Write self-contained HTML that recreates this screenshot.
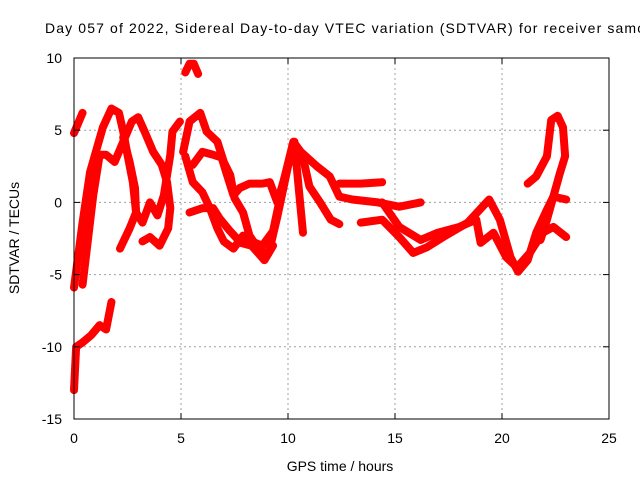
<!DOCTYPE html>
<html><head><meta charset="utf-8"><style>
body{margin:0;background:#fff}
svg{display:block;font-family:"Liberation Sans",sans-serif}
</style></head><body>
<svg id="chart" width="640" height="480" viewBox="0 0 640 480">
<text x="45" y="33" font-size="14" textLength="600" lengthAdjust="spacing">Day 057 of 2022, Sidereal Day-to-day VTEC variation (SDTVAR) for receiver samo</text>
<text transform="translate(19,238) rotate(-90)" font-size="14" text-anchor="middle">SDTVAR / TECUs</text>
<text x="340" y="471" font-size="14" text-anchor="middle">GPS time / hours</text>
<g id="grid"></g><g id="series"></g><g id="axes"></g>
</svg>
<script>
const xTicks=[0,5,10,15,20,25];
const yTicks=[-15,-10,-5,0,5,10];
const trackA=[[0,-13],[0.1,-10],[0.4,-9.7],[0.8,-9.2],[1.2,-8.5],[1.5,-8.8],[1.75,-6.9]];
const trackB=[[0,4.8],[0.2,5.5],[0.4,6.2]];
const trackC=[[0,-5.9],[0.4,-1.4],[0.75,2.1],[1.35,5.2],[1.75,6.5],[2.1,6.2],[2.3,4.9],[2.5,3.3],[2.75,1.4],[2.9,-0.7],[3.2,-1.4],[3.55,0],[3.9,-0.9],[4.2,0.5],[4.5,3.3],[4.6,4.9],[4.95,5.6]];
const trackD=[[0.4,-5.7],[0.9,0.5],[1.2,3.3],[1.5,3.3],[1.9,2.8],[2.3,4.2],[2.7,5.6],[3.0,5.9],[3.3,4.9],[3.7,3.5],[4.1,2.6],[4.35,1.4],[4.5,-0.4],[4.4,-1.8],[4.0,-3],[3.55,-2.4],[3.2,-2.7]];
const trackE=[[2.15,-3.2],[2.6,-1.8],[2.9,-0.7],[2.85,1],[2.6,2.8],[2.3,4.5]];
const trackF=[[5.2,9],[5.4,9.6],[5.6,9.6],[5.8,8.9]];
const trackG=[[5.1,3.5],[5.4,5.6],[5.9,6.2],[6.2,4.9],[6.7,4.2],[7,2.8],[7.3,1.9],[7.5,0.3],[7.9,-0.7],[8.2,-2.3],[8.7,-3.4],[9.1,-3.5],[9.5,-1],[10,2.5],[10.3,4],[10.7,3.1],[11,1.1],[11.5,0],[12,-1.2],[12.4,-1.5]];
const trackH=[[5.55,2.6],[6,3.5],[6.5,3.3],[6.9,3.1],[7.15,1.9],[7.45,0.5],[7.75,1],[8.2,1.3],[8.8,1.3],[9.15,1.4],[9.5,0],[9.9,2],[10.3,4.2],[10.5,1],[10.7,-2.1]];
const trackI=[[5.2,3.2],[5.55,1.4],[6,0.7],[6.35,-0.4],[6.7,-1.8],[7,-2.7],[7.45,-3.2],[7.9,-2.3],[8.3,-2.7],[8.8,-3],[9.3,-2],[9.8,1.5],[10.25,4.2],[10.6,3.5],[11.35,2.5],[11.95,1.8],[12.4,0.4],[13,0.2],[14.2,0],[15.2,-0.3],[16.2,0]];
const trackJ=[[5.4,-0.7],[6,-0.4],[6.5,-0.4],[6.8,-1.1],[7.3,-2],[7.8,-2.8],[8.3,-3],[8.9,-4],[9.3,-3]];
const trackL=[[12.4,1.3],[13.4,1.3],[14.4,1.4]];
const trackM=[[13.4,-1.4],[14.4,-1.2],[15.2,-2.4],[15.85,-3.5],[16.5,-3.1],[17.25,-2.4],[18.4,-1.4],[19.4,0.2],[19.9,-1.2],[20.4,-3.8],[20.75,-4.8],[21.2,-4],[21.6,-2.1],[22.1,-0.5],[22.4,0.4],[23,0.2]];
const trackN=[[14.4,0],[15.2,-1.7],[16.2,-2.6],[17,-2.1],[18,-1.7],[18.8,-1.2],[19,-2.8],[19.6,-2.1],[20.2,-3.8],[20.7,-4.5],[21.3,-3.5],[21.9,-2.1],[22.4,-1.7],[23,-2.4]];
const trackO=[[21.2,1.3],[21.6,1.8],[22.1,3.2],[22.3,5.7],[22.6,6.0],[22.85,5.2],[22.95,3.2],[22.7,2.0],[22.4,0.4],[22.1,-1.2],[21.8,-2.6]];
const tracks=[trackA,trackB,trackC,trackD,trackE,trackF,trackG,trackH,trackI,trackJ,trackL,trackM,trackN,trackO];

const X0=74,X1=609,Y0=419,Y1=58;
const sx=h=>X0+(h-0)/25*(X1-X0);
const sy=v=>Y0-(v+15)/25*(Y0-Y1);
const NS='http://www.w3.org/2000/svg';
const grid=document.getElementById('grid'),axes=document.getElementById('axes'),ser=document.getElementById('series');
function mk(tag,attrs,parent){const e=document.createElementNS(NS,tag);for(const k in attrs)e.setAttribute(k,attrs[k]);parent.appendChild(e);return e;}
xTicks.forEach(t=>{const x=sx(t);
 if(t>0&&t<25){const g=mk('line',{x1:x,x2:x,y1:Y1,y2:Y0,stroke:'#a0a0a0','stroke-dasharray':'2,3'},grid);
 
 }
 mk('line',{x1:x,x2:x,y1:Y0,y2:Y0-6,stroke:'#000'},axes);
 mk('line',{x1:x,x2:x,y1:Y1,y2:Y1+6,stroke:'#000'},axes);
 const l=mk('text',{x:x,y:443,'font-size':14,'text-anchor':'middle'},axes);l.textContent=t;
 
 });
yTicks.forEach(t=>{const y=sy(t);
 if(t>-15&&t<10){const g=mk('line',{x1:X0,x2:X1,y1:y,y2:y,stroke:'#a0a0a0','stroke-dasharray':'2,3'},grid);
 
 }
 mk('line',{x1:X0,x2:X0+6,y1:y,y2:y,stroke:'#000'},axes);
 mk('line',{x1:X1,x2:X1-6,y1:y,y2:y,stroke:'#000'},axes);
 const l=mk('text',{x:62,y:y+5,'font-size':14,'text-anchor':'end'},axes);l.textContent=t;
 
 });
const fr=mk('rect',{x:X0,y:Y1,width:X1-X0,height:Y0-Y1,fill:'none',stroke:'#000'},axes);


tracks.forEach((tr,i)=>{
 const p=mk('polyline',{points:tr.map(d=>sx(d[0])+','+sy(d[1])).join(' '),fill:'none',stroke:'#ff0000','stroke-width':8,'stroke-linejoin':'round','stroke-linecap':'round'},ser);
 
 
});
</script>
</body></html>
